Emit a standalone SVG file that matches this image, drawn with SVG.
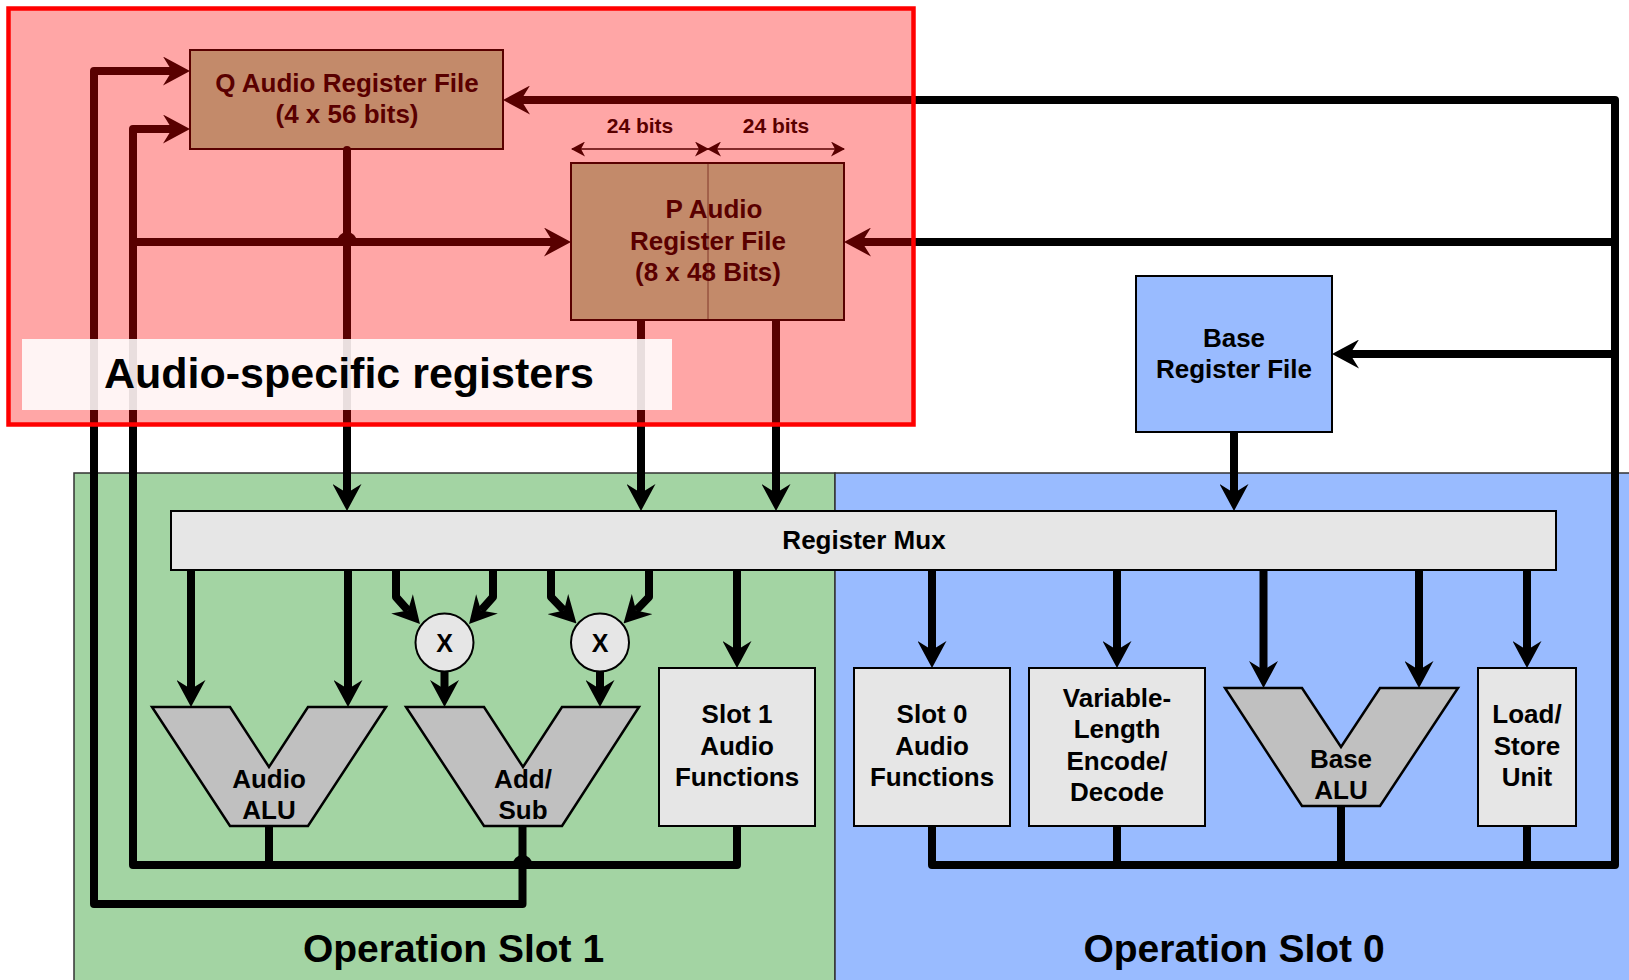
<svg xmlns="http://www.w3.org/2000/svg" width="1629" height="980" viewBox="0 0 1629 980">
<style>
.t{font-family:"Liberation Sans",Arial,sans-serif;font-weight:bold;text-anchor:middle;fill:#000}
.f26{font-size:26px}
.box{stroke:#000;stroke-width:2}
.grn{fill:#A3D4A3}
.gry{fill:#E6E6E6}
.alu{fill:#C0C0C0;stroke:#000;stroke-width:2.5;stroke-linejoin:miter}
.w{fill:none;stroke:#000;stroke-width:8;stroke-linejoin:round}
.a{marker-end:url(#ah)}
</style>
<defs>
<marker id="ah" markerUnits="userSpaceOnUse" markerWidth="27" markerHeight="29" viewBox="0 0 27 29" refX="9" refY="14.5" orient="auto"><path d="M0,0 L27,14.5 L0,29 L9,14.5 Z" fill="#000"/></marker>
<marker id="sa" markerUnits="userSpaceOnUse" markerWidth="14" markerHeight="15" viewBox="0 0 14 15" refX="13" refY="7.5" orient="auto-start-reverse"><path d="M0,0 L14,7.5 L0,15 L4,7.5 Z" fill="#000"/></marker>
</defs>
<rect width="1629" height="980" fill="#fff"/>
<g id="slot1-region"><rect x="74" y="473" width="761" height="520" fill="#A3D4A3" stroke="#333" stroke-width="1.5"/></g>
<g id="slot0-region"><rect x="835" y="473" width="800" height="520" fill="#99BBFF" stroke="#333" stroke-width="1.5"/></g>

<g id="q-reg">
<rect class="box grn" x="190" y="50" width="313" height="99"/>
<text class="t f26" x="347" y="92">Q Audio Register File</text>
<text class="t f26" x="347" y="123">(4 x 56 bits)</text>
</g>
<g id="p-reg">
<rect class="box grn" x="571" y="163" width="273" height="157"/>
<line x1="708" y1="163" x2="708" y2="320" stroke="#000" stroke-width="1" stroke-opacity="0.6"/>
<text class="t f26" x="714" y="218">P Audio</text>
<text class="t f26" x="708" y="250">Register File</text>
<text class="t f26" x="708" y="281">(8 x 48 Bits)</text>
<line x1="572" y1="149" x2="708" y2="149" stroke="#000" stroke-width="1.5" marker-start="url(#sa)" marker-end="url(#sa)"/>
<line x1="708" y1="149" x2="844" y2="149" stroke="#000" stroke-width="1.5" marker-start="url(#sa)" marker-end="url(#sa)"/>
<text class="t" style="font-size:21px" x="640" y="133">24 bits</text>
<text class="t" style="font-size:21px" x="776" y="133">24 bits</text>
</g>
<g id="base-reg">
<rect class="box" x="1136" y="276" width="196" height="156" fill="#99BBFF"/>
<text class="t f26" x="1234" y="347">Base</text>
<text class="t f26" x="1234" y="378">Register File</text>
</g>
<g id="register-mux">
<rect class="box gry" x="171" y="511" width="1385" height="59"/>
<text class="t" style="font-size:26px" x="864" y="549">Register Mux</text>
</g>
<g id="audio-alu">
<polygon class="alu" points="152,707 230,707 269,767 308,707 386,707 308,826 230,826"/>
<text class="t f26" x="269" y="788">Audio</text>
<text class="t f26" x="269" y="819">ALU</text>
</g>
<g id="mult1">
<circle cx="444.5" cy="642.5" r="29" class="box gry"/>
<text class="t" style="font-size:25px" x="444.5" y="651.5">X</text>
</g>
<g id="mult2">
<circle cx="600" cy="642.5" r="29" class="box gry"/>
<text class="t" style="font-size:25px" x="600" y="651.5">X</text>
</g>
<g id="add-sub">
<polygon class="alu" points="406,707 484,707 523,767 562,707 639,707 562,826 484,826"/>
<text class="t f26" x="523" y="788">Add/</text>
<text class="t f26" x="523" y="819">Sub</text>
</g>
<g id="slot1-audio">
<rect class="box gry" x="659" y="668" width="156" height="158"/>
<text class="t f26" x="737" y="723">Slot 1</text>
<text class="t f26" x="737" y="755">Audio</text>
<text class="t f26" x="737" y="786">Functions</text>
</g>
<g id="slot0-audio">
<rect class="box gry" x="854" y="668" width="156" height="158"/>
<text class="t f26" x="932" y="723">Slot 0</text>
<text class="t f26" x="932" y="755">Audio</text>
<text class="t f26" x="932" y="786">Functions</text>
</g>
<g id="vle">
<rect class="box gry" x="1029" y="668" width="176" height="158"/>
<text class="t f26" x="1117" y="707">Variable-</text>
<text class="t f26" x="1117" y="738">Length</text>
<text class="t f26" x="1117" y="770">Encode/</text>
<text class="t f26" x="1117" y="801">Decode</text>
</g>
<g id="base-alu">
<polygon class="alu" points="1225,688 1302,688 1341,747 1380,688 1458,688 1380,806 1302,806"/>
<text class="t f26" x="1341" y="768">Base</text>
<text class="t f26" x="1341" y="799">ALU</text>
</g>
<g id="load-store">
<rect class="box gry" x="1478" y="668" width="98" height="158"/>
<text class="t f26" x="1527" y="723">Load/</text>
<text class="t f26" x="1527" y="755">Store</text>
<text class="t f26" x="1527" y="786">Unit</text>
</g>

<g id="connectors">
<path class="w a" d="M737,826 V865 H133 V129 H172"/>
<path class="w a" d="M133,242 H553"/>
<path class="w" d="M269,826 V865"/>
<path class="w a" d="M522.5,826 V904 H94 V71 H172"/>
<path class="w a" d="M347,150 V493" stroke-linecap="round"/>
<path class="w a" d="M641,320 V493"/>
<path class="w a" d="M776,320 V493"/>
<path class="w a" d="M1234,432 V493"/>
<path class="w a" d="M932,826 V865 H1615 V100 H521"/>
<path class="w a" d="M1615,242 H862"/>
<path class="w a" d="M1615,354 H1350"/>
<path class="w" d="M1117,826 V865"/>
<path class="w" d="M1341,806 V865"/>
<path class="w" d="M1527,826 V865"/>
<path class="w a" d="M191,570 V689"/>
<path class="w a" d="M348,570 V689"/>
<path class="w a" d="M396,570 V597 L408,610.5"/>
<path class="w a" d="M493,570 V597 L481,610.5"/>
<path class="w a" d="M551,570 V597 L564,610.5"/>
<path class="w a" d="M649,570 V597 L636,610.5"/>
<path class="w a" d="M444.5,671.5 V689"/>
<path class="w a" d="M600,671.5 V689"/>
<path class="w a" d="M737,570 V650"/>
<path class="w a" d="M932,570 V650"/>
<path class="w a" d="M1117,570 V650"/>
<path class="w a" d="M1263.5,570 V670"/>
<path class="w a" d="M1419,570 V670"/>
<path class="w a" d="M1527,570 V650"/>
<path d="M337,242 A10,10 0 0 1 357,242 Z" fill="#000"/>
<path d="M512.5,865 A10,10 0 0 1 532.5,865 Z" fill="#000"/>
</g>

<g id="audio-specific-registers">
<rect x="8.5" y="8.5" width="905" height="416" fill="#FF0000" fill-opacity="0.35" stroke="#FF0000" stroke-width="4.5"/>
<rect x="22" y="339" width="650" height="71" fill="#fff" fill-opacity="0.87"/>
<text class="t" style="font-size:43px;text-anchor:start" x="104" y="388">Audio-specific registers</text>
</g>
<g id="slot-labels">
<text class="t" style="font-size:39px" x="453.5" y="962">Operation Slot 1</text>
<text class="t" style="font-size:39px" x="1234" y="962">Operation Slot 0</text>
</g>
</svg>
